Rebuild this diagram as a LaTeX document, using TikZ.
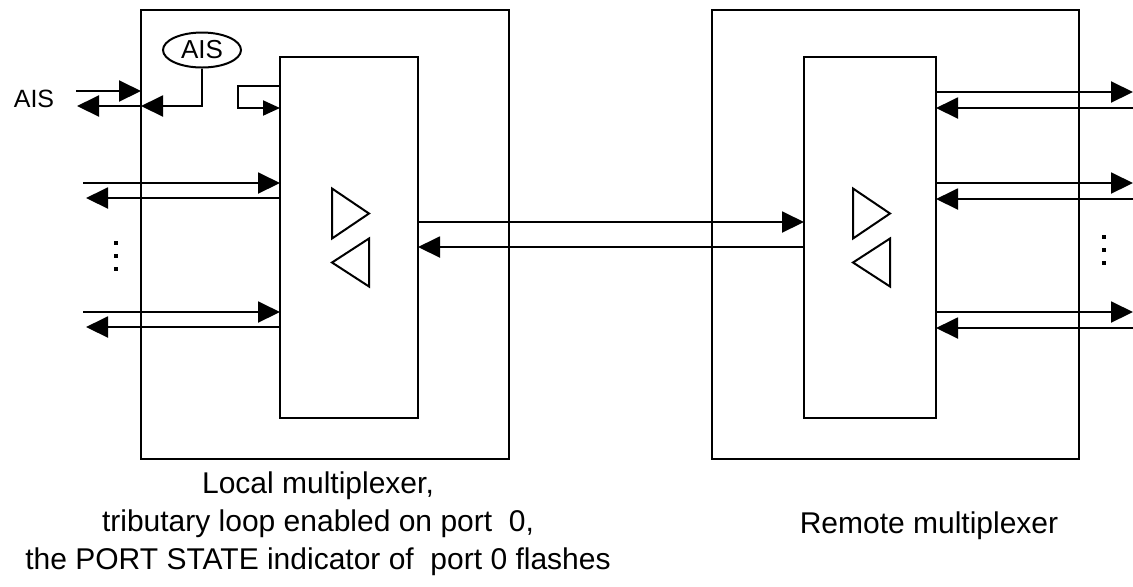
\documentclass[tikz,border=0pt]{standalone}
\usepackage{fontspec}
\setmainfont{Liberation Sans}
\usetikzlibrary{arrows.meta, calc, positioning, shapes.geometric}
\tikzset{
  % outer and inner boxes of a multiplexer
  muxbox/.style={draw=black, line width=1pt, inner sep=0pt, outer sep=0pt},
  % signal lines
  sig/.style={-{Triangle[length=11pt, width=10.5pt]}, line width=1pt},
  smallsig/.style={-{Triangle[length=8.5pt, width=7.5pt]}, line width=1pt},
  % direction marks inside the core box
  tri/.style={draw=black, line width=1pt, line join=miter},
  % AIS generator
  aisgen/.style={ellipse, draw=black, line width=1pt, minimum width=39pt,
    minimum height=17.5pt, inner sep=0pt, font=\fontsize{13}{15}\selectfont},
  % labels
  lbl/.style={align=center, inner sep=0pt, font=\fontsize{15}{19}\selectfont},
  smalllbl/.style={inner sep=0pt, font=\fontsize{12.5}{14}\selectfont},
  % dot of a vertical ellipsis
  dotmark/.style={fill=black, inner sep=0pt, minimum size=1.6pt},
}
\begin{document}
\begin{tikzpicture}[x=0.5pt, y=-0.5pt]
  \useasboundingbox (0,0) rectangle (1133,586);
  % the two multiplexers
  \node[muxbox, minimum width=184pt, minimum height=224.5pt] (lmux) at (325,234.5) {};
  \node[muxbox, minimum width=69pt, minimum height=180.5pt] (lcore) at (349,237.5) {};
  \node[muxbox, minimum width=183.5pt, minimum height=224.5pt] (rmux) at (895.5,234.5) {};
  \node[muxbox, minimum width=66pt, minimum height=180.5pt] (rcore) at (870,237.5) {};
  \foreach \m in {lcore, rcore} {
    \draw[tri] ($(\m.center)+(-17,-49)$) -- ++(37,25) -- ++(-37,25) -- cycle;
    \draw[tri] ($(\m.center)+(20,1)$) -- ++(-37,24) -- ++(37,24) -- cycle;
  }
  % AIS towards the local side
  \node[aisgen] (ais) at (202,50) {AIS};
  \node[smalllbl] (aislbl) at (34,99) {AIS};
  \coordinate (aisin) at (76,91);
  \coordinate (aisout) at (77,106);
  \draw[sig] (aisin) -- (aisin -| lmux.west);
  \draw[sig] (aisout -| lmux.west) -- (aisout);
  \draw[sig] (ais.south) |- (aisout -| lmux.west);
  % tributary loop on port 0
  \coordinate (loop) at (238,86);
  \draw[smallsig] (lcore.west |- loop) -- (loop) |- (lcore.west |- 0,108);
  % local tributary ports
  \foreach \i/\y in {1/183, 2/312} {
    \coordinate (lin\i) at (83,\y);
    \coordinate (lout\i) at (86,\y+15);
    \draw[sig] (lin\i) -- (lin\i -| lcore.west);
    \draw[sig] (lout\i -| lcore.west) -- (lout\i);
  }
  \foreach \i/\y in {1/243, 2/256, 3/269}
    \node[dotmark] (ldot\i) at (116,\y) {};
  % remote tributary ports
  \foreach \i/\y in {1/92, 2/183, 3/312} {
    \coordinate (rout\i) at (1133,\y);
    \coordinate (rin\i) at (1133,\y+16);
    \draw[sig] (rout\i -| rcore.east) -- (rout\i);
    \draw[sig] (rin\i) -- (rin\i -| rcore.east);
  }
  \foreach \i/\y in {1/237, 2/250, 3/263}
    \node[dotmark] (rdot\i) at (1104,\y) {};
  % link between the multiplexers
  \draw[sig] (lcore.east |- 0,222) -- (rcore.west |- 0,222);
  \draw[sig] (rcore.west |- 0,247) -- (lcore.east |- 0,247);
  % captions
  \node[lbl] (lcap) at (318,524) {Local multiplexer,\\tributary loop enabled on port~~0,\\the PORT STATE indicator of~~port 0 flashes};
  \node[lbl] (rcap) at (929,526) {Remote multiplexer};
\end{tikzpicture}
\end{document}
